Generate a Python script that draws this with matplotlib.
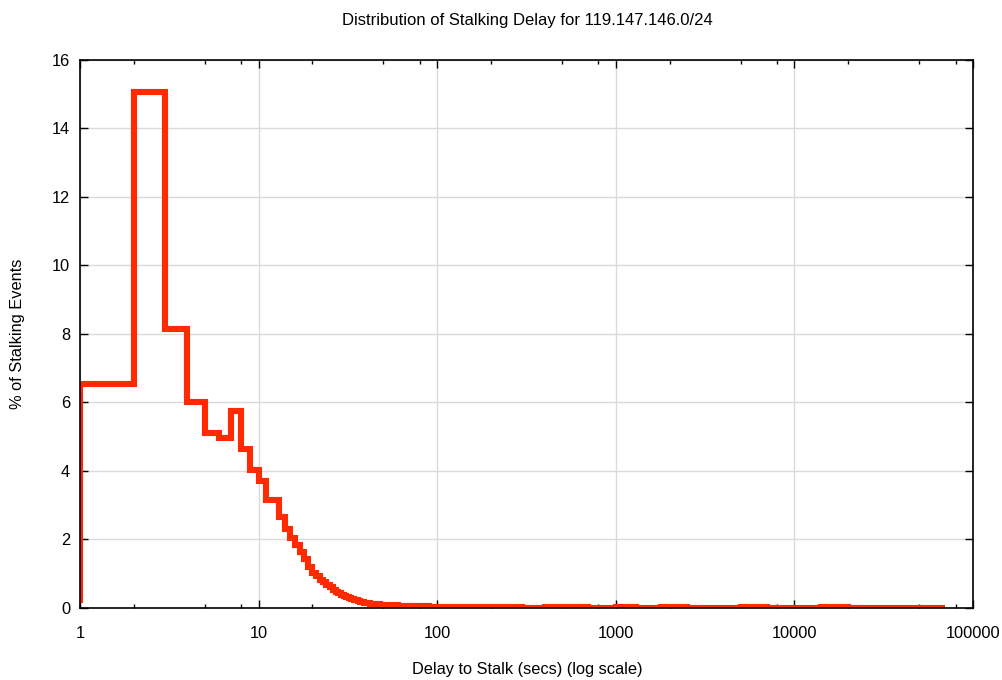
"""Stalking delay distribution, gnuplot-style step line on a log x axis."""

import matplotlib
matplotlib.use("Agg")
import matplotlib.pyplot as plt
from matplotlib.ticker import FixedLocator, NullFormatter

# bin left edges (secs) and % of events in each bin; last edge closes the final bin
bin_edges = [1, 2, 3, 4, 5, 6, 7, 8, 9, 10, 11, 12, 13, 14, 15, 16, 17, 18, 19, 20,
             21, 22, 23, 24, 25, 26, 27, 28, 29, 30, 31, 32, 33, 34, 35, 36, 37, 38, 39,
             40, 42, 45, 48, 52, 56, 60, 65, 70, 80, 90, 100, 130, 170, 220, 300, 400,
             500, 700, 1000, 1300, 1800, 2500, 3500, 5000, 7000, 10000, 14000, 20000,
             30000, 45000, 70000]
pct_events = [6.55, 15.05, 8.15, 6.0, 5.1, 4.97, 5.75, 4.65, 4.02, 3.72, 3.15, 3.15,
              2.65, 2.3, 2.03, 1.83, 1.62, 1.43, 1.2, 1.02, 0.92, 0.83, 0.75, 0.67,
              0.6, 0.53, 0.48, 0.43, 0.39, 0.35, 0.32, 0.29, 0.26, 0.24, 0.22, 0.2,
              0.18, 0.17, 0.16, 0.14, 0.13, 0.11, 0.1, 0.09, 0.08, 0.07, 0.06, 0.05,
              0.045, 0.04, 0.03, 0.02, 0.03, 0.02, 0.01, 0.02, 0.02, 0.01, 0.02, 0.01,
              0.02, 0.01, 0.01, 0.02, 0.01, 0.01, 0.02, 0.01, 0.01, 0.01]
first_value = 0.15  # value just before the first bin (short rise at x=1)

x_ticks = [1, 10, 100, 1000, 10000, 100000]
x_tick_labels = ["1", "10", "100", "1000", "10000", "100000"]
y_ticks = [0, 2, 4, 6, 8, 10, 12, 14, 16]

plt.rcParams["font.family"] = ["Liberation Sans", "DejaVu Sans"]

fig = plt.figure(figsize=(10.02, 6.8), dpi=100)
ax = fig.add_axes([0.0798, 0.1059, 0.8913, 0.8063])

xs = [bin_edges[0]] + bin_edges
ys = [first_value] + pct_events + [pct_events[-1]]
ax.step(xs, ys, where="post", color="#ff2a00", lw=4.4, solid_joinstyle="miter",
        solid_capstyle="butt", zorder=3)

ax.set_xscale("log")
ax.set_xlim(1, 100000)
ax.set_ylim(0, 16)

ax.xaxis.set_major_locator(FixedLocator(x_ticks))
ax.set_xticklabels(x_tick_labels)
minor = [m * d for d in [1, 10, 100, 1000, 10000] for m in (2, 5, 8)]
ax.xaxis.set_minor_locator(FixedLocator(minor))
ax.xaxis.set_minor_formatter(NullFormatter())
ax.set_yticks(y_ticks)

ax.tick_params(which="both", direction="in", top=True, right=True, labelsize=11.8,
               color="black", width=1.0)
ax.tick_params(which="major", length=6)
ax.tick_params(which="minor", length=3)
ax.tick_params(axis="x", which="both", pad=13)
ax.tick_params(axis="y", pad=7)

ax.grid(True, which="major", color="#dadada", lw=1.0, zorder=0)
for sp in ax.spines.values():
    sp.set_linewidth(1.2)
    sp.set_zorder(4)

fig.text(0.526, 0.970, "Distribution of Stalking Delay for 119.147.146.0/24",
         ha="center", va="center", fontsize=12)
fig.text(0.526, 0.015, "Delay to Stalk (secs) (log scale)",
         ha="center", va="center", fontsize=11.8)
fig.text(0.017, 0.509, "% of Stalking Events", rotation=90,
         ha="center", va="center", fontsize=11.8)

fig.savefig("out.png", dpi=100)
